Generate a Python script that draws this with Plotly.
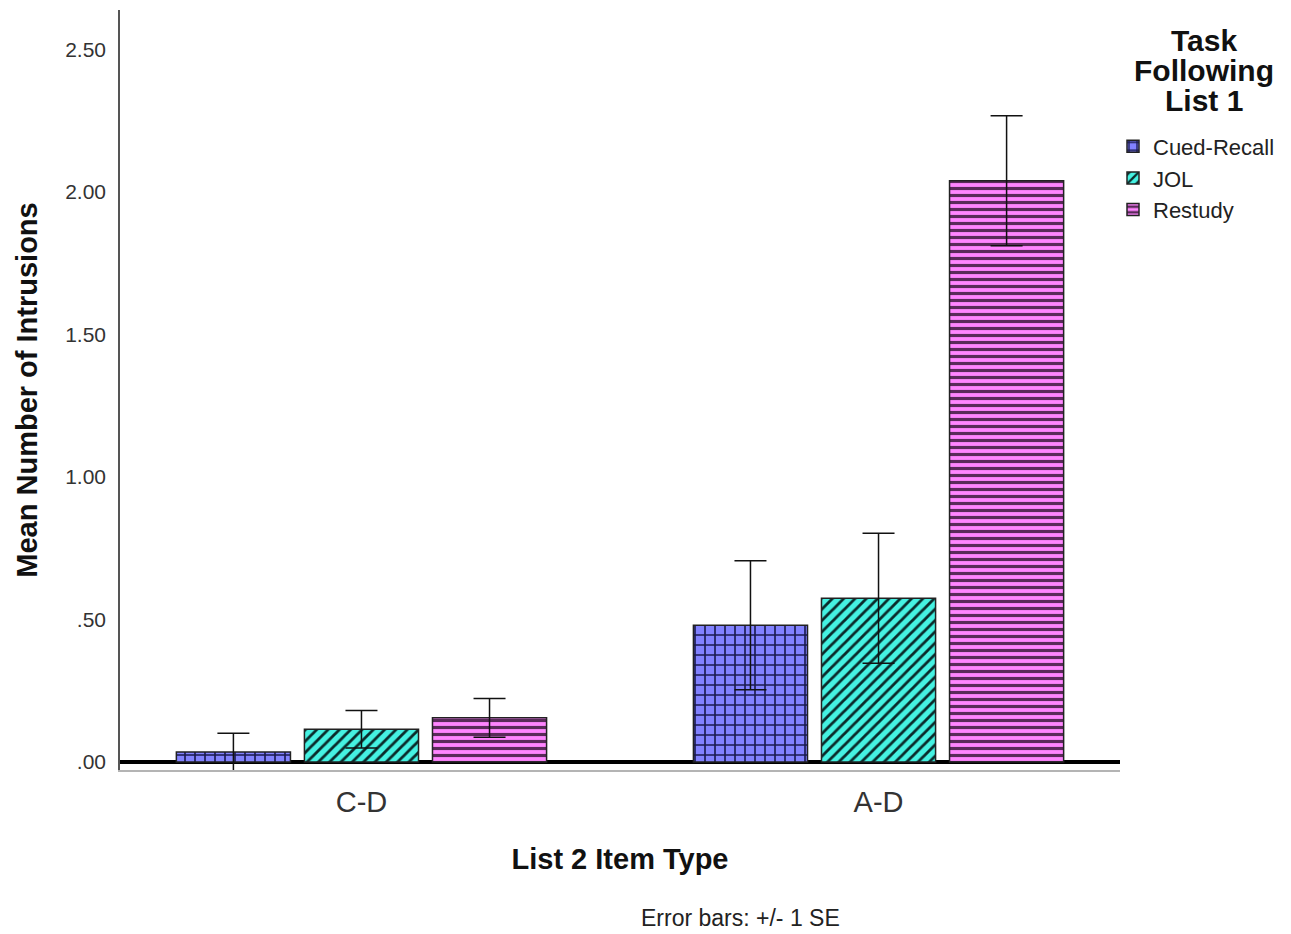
import plotly.graph_objects as go

# Mean intrusions per List 2 item type and task following List 1, with ±1 SE
categories = ["C-D", "A-D"]
tasks = ["Cued-Recall", "JOL", "Restudy"]
means = {
    "Cued-Recall": [0.035, 0.48],
    "JOL": [0.115, 0.575],
    "Restudy": [0.155, 2.04],
}
se = {
    "Cued-Recall": [0.066, 0.226],
    "JOL": [0.066, 0.228],
    "Restudy": [0.068, 0.228],
}
tick_vals = [0, 0.5, 1.0, 1.5, 2.0, 2.5]
tick_text = [".00", ".50", "1.00", "1.50", "2.00", "2.50"]
legend_title_lines = ["Task", "Following", "List 1"]

styles = {
    "Cued-Recall": dict(bg="#8282ff", fg="#1a1a50", shape="+", size=10, solidity=0.3),
    "JOL": dict(bg="#45f2e2", fg="#0a2a2a", shape="/", size=8, solidity=0.35),
    "Restudy": dict(bg="#ff85ff", fg="#5a2a5a", shape="-", size=7, solidity=0.45),
}

FONT = "Liberation Sans, Arial, sans-serif"

fig = go.Figure()
for t in tasks:
    s = styles[t]
    fig.add_trace(go.Bar(
        name=t,
        x=categories,
        y=means[t],
        marker=dict(
            color=s["bg"],
            line=dict(color="#222222", width=1.5),
            pattern=dict(shape=s["shape"], bgcolor=s["bg"], fgcolor=s["fg"],
                         size=s["size"], solidity=s["solidity"], fillmode="replace"),
        ),
        error_y=dict(type="data", array=se[t], visible=True,
                     color="#111111", thickness=1.5, width=16),
    ))

# Legend heading, one line per annotation for tight line spacing
annotations = []
for i, line in enumerate(legend_title_lines):
    annotations.append(dict(
        text=f"<b>{line}</b>", xref="paper", yref="paper",
        x=1.084, y=(770 - 40 - 30.5 * i) / 760, xanchor="center", yanchor="middle",
        showarrow=False, font=dict(size=30, family=FONT, color="#111111"),
    ))
annotations.append(dict(
    text="Error bars: +/- 1 SE", xref="paper", yref="paper",
    x=0.62, y=(770 - 918) / 760, xanchor="center", yanchor="middle",
    showarrow=False, font=dict(size=23, family=FONT, color="#222222"),
))

fig.update_layout(
    width=1291, height=934,
    margin=dict(l=120, r=171, t=10, b=164, autoexpand=False),
    paper_bgcolor="white", plot_bgcolor="white",
    barmode="group", bargap=0.257, bargroupgap=0.109,
    font=dict(family=FONT, color="#111111"),
    showlegend=True,
    legend=dict(
        x=0.993, xanchor="left", y=0.848, yanchor="top",
        font=dict(size=22, family=FONT, color="#222222"),
        tracegroupgap=0, itemwidth=30,
        bgcolor="rgba(0,0,0,0)",
    ),
    annotations=annotations,
)

fig.update_xaxes(
    range=[-0.467, 1.467],
    showline=True, linecolor="#b4b4b4", linewidth=2, mirror=False,
    ticks="", showgrid=False,
    tickfont=dict(size=29, family=FONT, color="#333333"),
    ticklabelstandoff=5,
    title=dict(text="<b>List 2 Item Type</b>", standoff=32,
               font=dict(size=29, family=FONT, color="#111111")),
)
fig.update_yaxes(
    range=[-0.028, 2.639],
    tickvals=tick_vals, ticktext=tick_text,
    showline=True, linecolor="#555555", linewidth=1.5,
    ticks="", showgrid=False,
    zeroline=True, zerolinecolor="#000000", zerolinewidth=4,
    tickfont=dict(size=21, family=FONT, color="#333333"),
    ticklabelstandoff=8,
    title=dict(text="<b>Mean Number of Intrusions</b>", standoff=19,
               font=dict(size=29, family=FONT, color="#111111")),
)

fig.write_html("out.html")
